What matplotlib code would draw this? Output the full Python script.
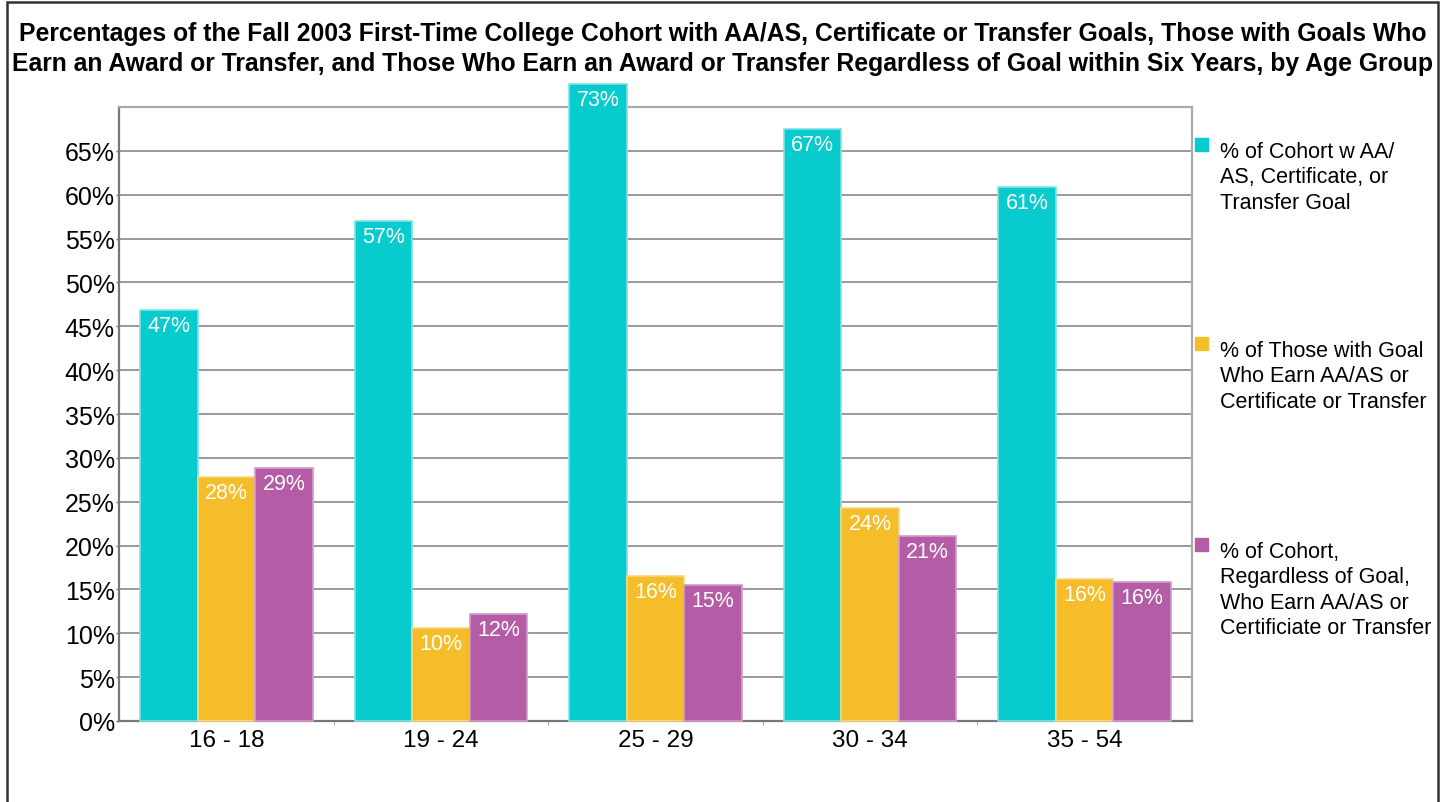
import numpy as np
import matplotlib
matplotlib.use('Agg')
import matplotlib.pyplot as plt
from matplotlib.patches import Rectangle

plt.rcParams['font.family'] = ['Liberation Sans', 'DejaVu Sans']

# data
age_groups = ['16 - 18', '19 - 24', '25 - 29', '30 - 34', '35 - 54']
with_goal = [46.8, 57.0, 72.6, 67.5, 60.9]
goal_earn = [27.8, 10.6, 16.5, 24.3, 16.2]
any_earn = [28.8, 12.2, 15.5, 21.1, 15.8]
value_labels = [['47%', '57%', '73%', '67%', '61%'],
                ['28%', '10%', '16%', '24%', '16%'],
                ['29%', '12%', '15%', '21%', '16%']]
series_names = ['% of Cohort w AA/\nAS, Certificate, or\nTransfer Goal',
                '% of Those with Goal\nWho Earn AA/AS or\nCertificate or Transfer',
                '% of Cohort,\nRegardless of Goal,\nWho Earn AA/AS or\nCertificiate or Transfer']
colors = ['#07CBCC', '#F6BD2A', '#B45CA5']
edges = ['#7EE3E3', '#F9D77F', '#D39BCA']

title = ('Percentages of the Fall 2003 First-Time College Cohort with AA/AS, Certificate or Transfer Goals, Those with Goals Who\n'
         'Earn an Award or Transfer, and Those Who Earn an Award or Transfer Regardless of Goal within Six Years, by Age Group')

W, H = 1456, 803
fig = plt.figure(figsize=(W / 100, H / 100), dpi=100)
ax = fig.add_axes([119 / W, 1 - 722 / H, (1192 - 119) / W, (722 - 108) / H])

x = np.arange(len(age_groups))
bw = 0.268
series = [with_goal, goal_earn, any_earn]
for i, vals in enumerate(series):
    bars = ax.bar(x + (i - 1) * bw, vals, bw, color=colors[i], edgecolor=edges[i],
                  linewidth=1.2, zorder=3, clip_on=False)
    for b, lab in zip(bars, value_labels[i]):
        ax.annotate(lab, (b.get_x() + b.get_width() / 2, b.get_height()),
                    xytext=(0, -3.5), textcoords='offset points', ha='center', va='top',
                    color='white', fontsize=15.5, zorder=4, annotation_clip=False)

ax.set_xlim(-0.5, 4.5)
ax.set_ylim(0, 70)
ax.set_yticks(np.arange(0, 70, 5))
ax.set_yticklabels([f'{v}%' for v in range(0, 70, 5)])
ax.set_xticks(x)
ax.set_xticklabels(age_groups)
ax.set_xticks(np.arange(0.5, 4.5, 1), minor=True)
ax.yaxis.grid(True, color='#9A9A9A', linewidth=1.4, zorder=0)
ax.tick_params(axis='y', length=2, width=1, color='#777777', pad=1, labelsize=18)
ax.tick_params(axis='x', which='major', length=0, pad=6, labelsize=17.5)
ax.tick_params(axis='x', which='minor', length=3, color='#999999')
for s in ['left', 'bottom']:
    ax.spines[s].set_color('#777777')
    ax.spines[s].set_linewidth(1.6)
for s in ['top', 'right']:
    ax.spines[s].set_color('#AAAAAA')
    ax.spines[s].set_linewidth(1.6)

fig.text(723 / W, 1 - 22 / H, title, ha='center', va='top', fontsize=17.8,
         fontweight='bold', linespacing=1.3)

# legend drawn by hand to match the spread-out layout
sq_top = [139, 338, 539]
txt_top = [142, 341, 542]
for i in range(3):
    fig.add_artist(Rectangle((1195 / W, 1 - (sq_top[i] + 12.5) / H), 12.5 / W, 12.5 / H,
                             transform=fig.transFigure, color=colors[i]))
    fig.text(1220 / W, 1 - txt_top[i] / H, series_names[i], ha='left', va='top',
             fontsize=15.5, linespacing=1.28)

# outer frame
fig.add_artist(Rectangle((7 / W, -0.01), (1438 - 7) / W, 1 - 3 / H + 0.01,
                         transform=fig.transFigure, fill=False, edgecolor='#333333', linewidth=1.8))

fig.savefig('out.png', dpi=100)
